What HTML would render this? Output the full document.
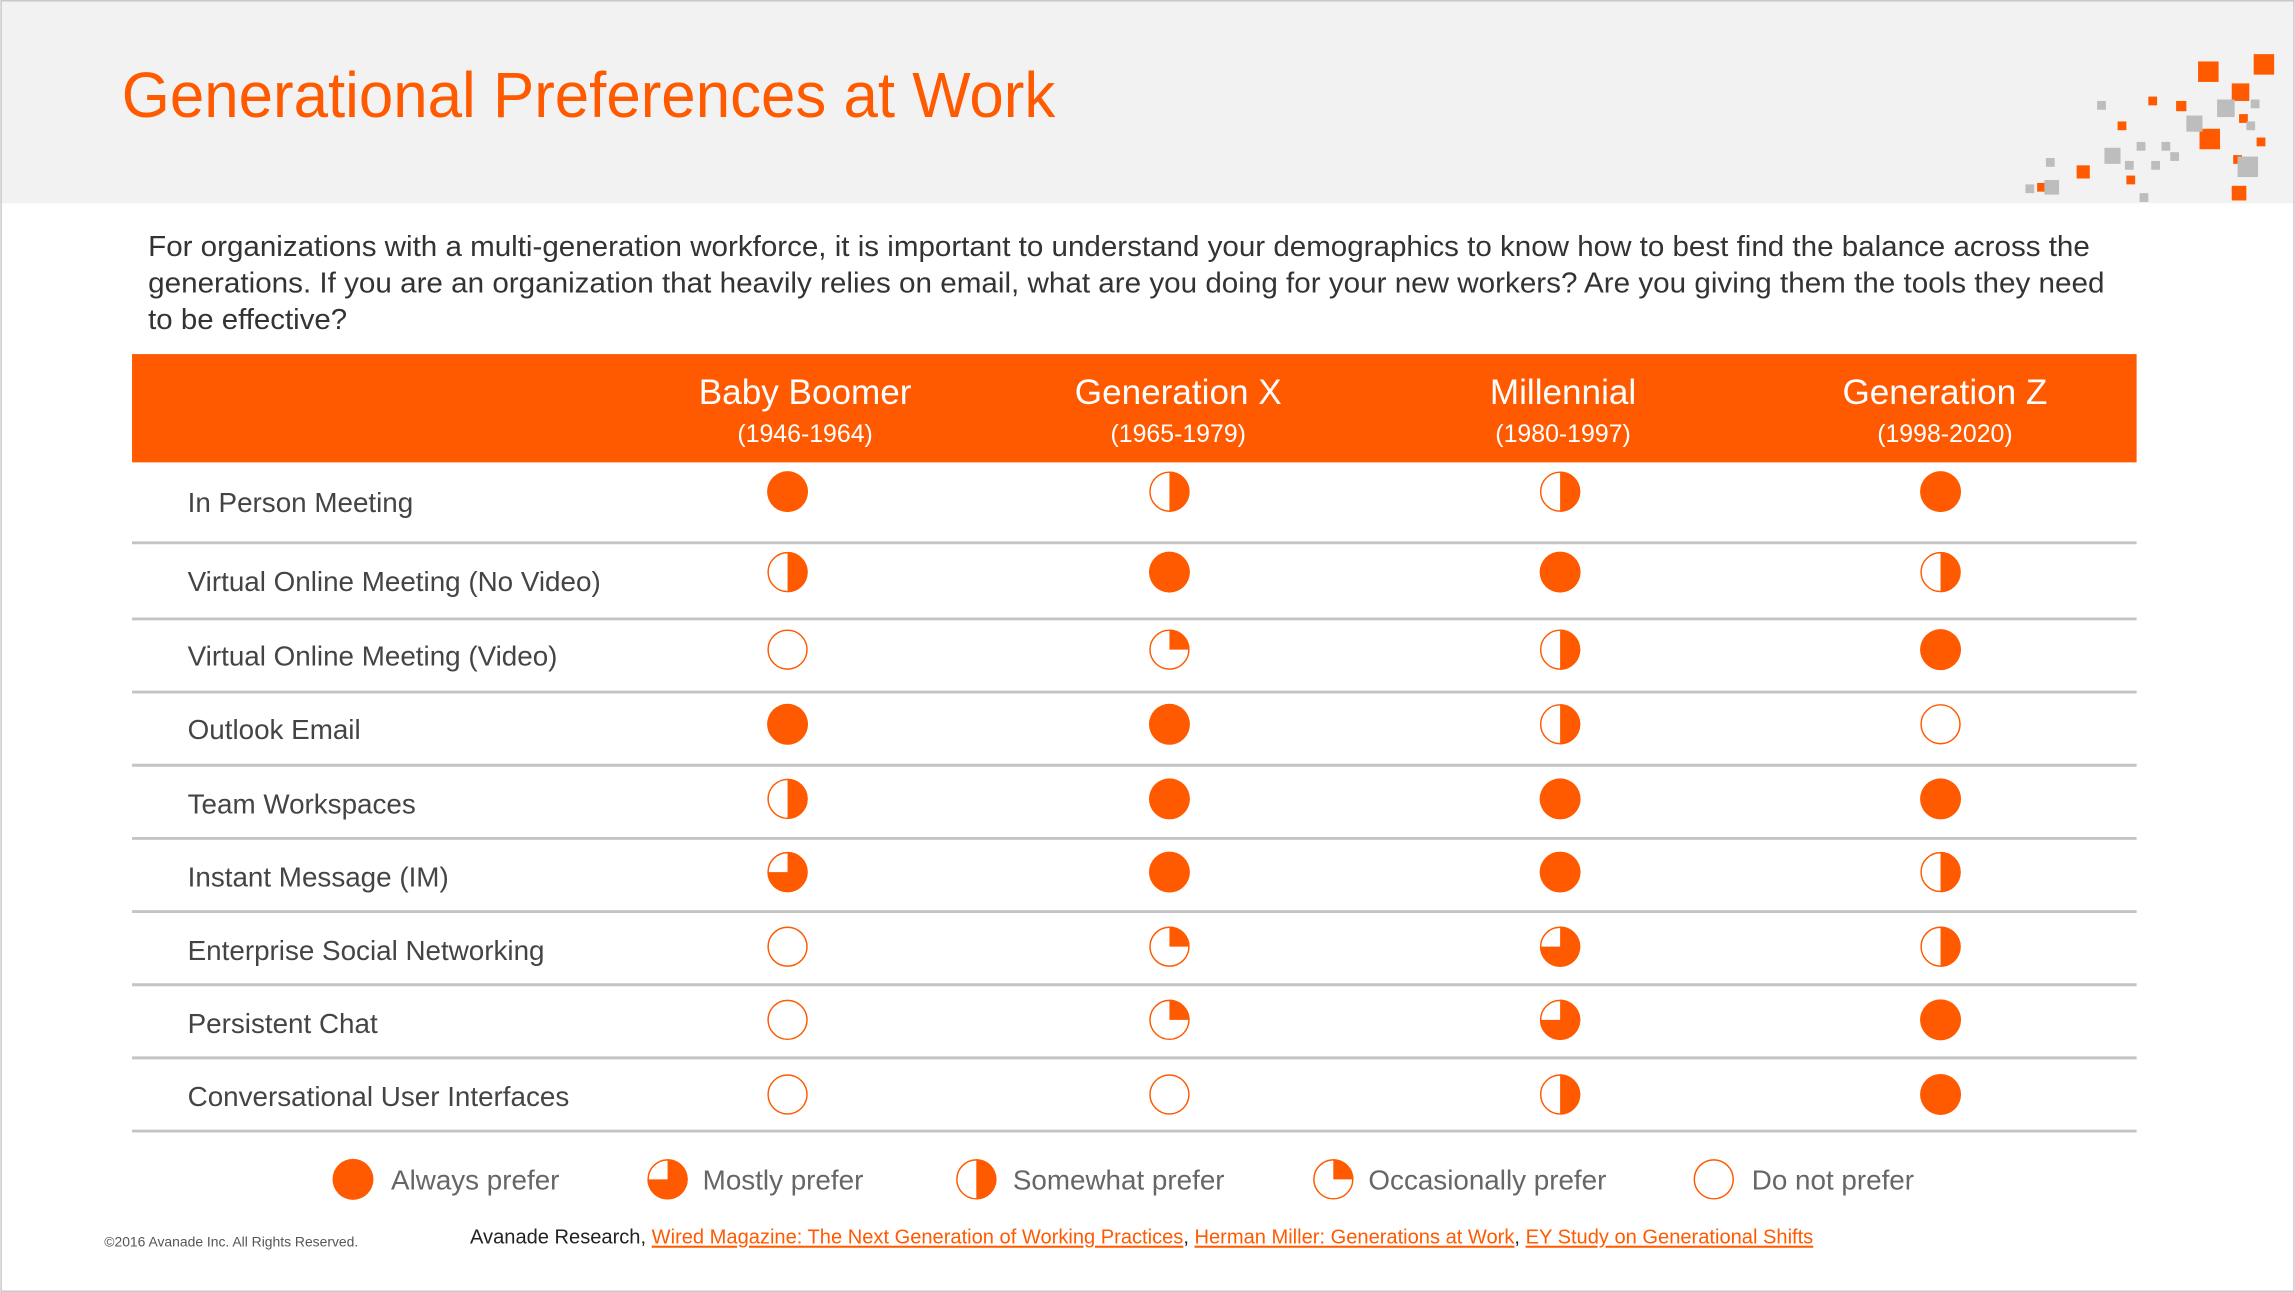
<!DOCTYPE html>
<html><head><meta charset="utf-8"><style>
html,body{margin:0;padding:0;background:#fff;}
svg{display:block;}
text{font-family:"Liberation Sans",sans-serif;}
</style></head><body>
<svg width="2295" height="1292" viewBox="0 0 1568 883" xmlns="http://www.w3.org/2000/svg">
<defs>
<g id="F"><circle r="14" fill="#ff5a00"/></g>
<g id="N"><circle r="13.3" fill="#fff" stroke="#ff5a00" stroke-width="1"/></g>
<g id="H"><circle r="13.3" fill="#fff" stroke="#ff5a00" stroke-width="1"/><path d="M0,-13.8 A13.8,13.8 0 0 1 0,13.8 Z" fill="#ff5a00"/></g>
<g id="M"><circle r="13.3" fill="#fff" stroke="#ff5a00" stroke-width="1"/><path d="M0,0 L0,-13.8 A13.8,13.8 0 1 1 -13.8,0 Z" fill="#ff5a00"/></g>
<g id="Q"><circle r="13.3" fill="#fff" stroke="#ff5a00" stroke-width="1"/><path d="M0,0 L0,-13.8 A13.8,13.8 0 0 1 13.8,0 Z" fill="#ff5a00"/></g>
</defs>
<rect x="0" y="0" width="1568" height="883" fill="#fff"/>
<rect x="0" y="0" width="1568" height="139" fill="#f2f2f2"/>
<rect x="0.5" y="0.5" width="1567" height="882" fill="none" stroke="#c8c8c8" stroke-width="1"/>
<text x="83" y="80" font-size="44" fill="#ff5a00" textLength="638" lengthAdjust="spacingAndGlyphs">Generational Preferences at Work</text>
<!-- decoration -->
<g fill="#ff5a00">
<rect x="1502" y="42" width="14" height="14"/><rect x="1540" y="37" width="14" height="14"/>
<rect x="1525" y="57" width="12" height="12"/><rect x="1503" y="88" width="14" height="14"/>
<rect x="1487" y="69" width="7" height="7"/><rect x="1468" y="66" width="6" height="6"/>
<rect x="1447" y="83" width="6" height="6"/><rect x="1530" y="78" width="6" height="6"/>
<rect x="1542" y="94" width="6" height="6"/><rect x="1526" y="106" width="6" height="6"/>
<rect x="1419" y="113" width="9" height="9"/><rect x="1392" y="125" width="6" height="6"/>
<rect x="1453" y="120" width="6" height="6"/><rect x="1525" y="127" width="10" height="10"/>
</g>
<g fill="#bdbdbd">
<rect x="1515" y="68" width="12" height="12"/><rect x="1494" y="79" width="11" height="11"/>
<rect x="1433" y="69" width="6" height="6"/><rect x="1538" y="68" width="6" height="6"/>
<rect x="1535" y="83" width="6" height="6"/><rect x="1529" y="107" width="14" height="14"/>
<rect x="1438" y="101" width="11" height="11"/><rect x="1397" y="123" width="10" height="10"/>
<rect x="1460" y="97" width="6" height="6"/><rect x="1477" y="97" width="6" height="6"/>
<rect x="1483" y="104" width="6" height="6"/><rect x="1452" y="110" width="6" height="6"/>
<rect x="1470" y="110" width="6" height="6"/><rect x="1398" y="108" width="6" height="6"/>
<rect x="1384" y="126" width="6" height="6"/><rect x="1462" y="132" width="6" height="6"/>
</g>
<g font-size="19.5" fill="#333">
<text x="101" y="175" textLength="1327" lengthAdjust="spacingAndGlyphs">For organizations with a multi-generation workforce, it is important to understand your demographics to know how to best find the balance across the</text>
<text x="101" y="200" textLength="1337" lengthAdjust="spacingAndGlyphs">generations.  If you are an organization that heavily relies on email, what are you doing for your new workers?  Are you giving them the tools they need</text>
<text x="101" y="225" textLength="136" lengthAdjust="spacingAndGlyphs">to be effective?</text>
</g>
<rect x="90" y="242" width="1370" height="74" fill="#ff5a00"/>
<g fill="#fff" text-anchor="middle">
<text x="550" y="276" font-size="24">Baby Boomer</text><text x="550" y="302" font-size="17">(1946-1964)</text>
<text x="805" y="276" font-size="24">Generation X</text><text x="805" y="302" font-size="17">(1965-1979)</text>
<text x="1068" y="276" font-size="24">Millennial</text><text x="1068" y="302" font-size="17">(1980-1997)</text>
<text x="1329" y="276" font-size="24">Generation Z</text><text x="1329" y="302" font-size="17">(1998-2020)</text>
</g>
<g stroke="#c4c4c4" stroke-width="2">
<line x1="90" y1="371" x2="1460" y2="371"/><line x1="90" y1="423" x2="1460" y2="423"/>
<line x1="90" y1="473" x2="1460" y2="473"/><line x1="90" y1="523" x2="1460" y2="523"/>
<line x1="90" y1="573" x2="1460" y2="573"/><line x1="90" y1="623" x2="1460" y2="623"/>
<line x1="90" y1="673" x2="1460" y2="673"/><line x1="90" y1="723" x2="1460" y2="723"/>
<line x1="90" y1="773" x2="1460" y2="773"/>
</g>
<g font-size="19" fill="#444">
<text x="128" y="350">In Person Meeting</text>
<text x="128" y="404">Virtual Online Meeting (No Video)</text>
<text x="128" y="455">Virtual Online Meeting (Video)</text>
<text x="128" y="505">Outlook Email</text>
<text x="128" y="556">Team Workspaces</text>
<text x="128" y="606">Instant Message (IM)</text>
<text x="128" y="656">Enterprise Social Networking</text>
<text x="128" y="706">Persistent Chat</text>
<text x="128" y="756">Conversational User Interfaces</text>
</g>
<!-- balls -->
<use href="#F" x="538" y="336"/><use href="#H" x="799" y="336"/><use href="#H" x="1066" y="336"/><use href="#F" x="1326" y="336"/>
<use href="#H" x="538" y="391"/><use href="#F" x="799" y="391"/><use href="#F" x="1066" y="391"/><use href="#H" x="1326" y="391"/>
<use href="#N" x="538" y="444"/><use href="#Q" x="799" y="444"/><use href="#H" x="1066" y="444"/><use href="#F" x="1326" y="444"/>
<use href="#F" x="538" y="495"/><use href="#F" x="799" y="495"/><use href="#H" x="1066" y="495"/><use href="#N" x="1326" y="495"/>
<use href="#H" x="538" y="546"/><use href="#F" x="799" y="546"/><use href="#F" x="1066" y="546"/><use href="#F" x="1326" y="546"/>
<use href="#M" x="538" y="596"/><use href="#F" x="799" y="596"/><use href="#F" x="1066" y="596"/><use href="#H" x="1326" y="596"/>
<use href="#N" x="538" y="647"/><use href="#Q" x="799" y="647"/><use href="#M" x="1066" y="647"/><use href="#H" x="1326" y="647"/>
<use href="#N" x="538" y="697"/><use href="#Q" x="799" y="697"/><use href="#M" x="1066" y="697"/><use href="#F" x="1326" y="697"/>
<use href="#N" x="538" y="748"/><use href="#N" x="799" y="748"/><use href="#H" x="1066" y="748"/><use href="#F" x="1326" y="748"/>
<!-- legend -->
<use href="#F" x="241" y="806"/><use href="#M" x="456" y="806"/><use href="#H" x="667" y="806"/><use href="#Q" x="911" y="806"/><use href="#N" x="1171" y="806"/>
<g font-size="19" fill="#666">
<text x="267" y="813">Always prefer</text>
<text x="480" y="813">Mostly prefer</text>
<text x="692" y="813">Somewhat prefer</text>
<text x="935" y="813">Occasionally prefer</text>
<text x="1197" y="813">Do not prefer</text>
</g>
<text x="71" y="852" font-size="9.5" fill="#555">©2016 Avanade Inc. All Rights Reserved.</text>
<text x="321" y="850" font-size="14" fill="#222" textLength="918" lengthAdjust="spacingAndGlyphs">Avanade Research, <tspan fill="#ff5a00" text-decoration="underline">Wired Magazine: The Next Generation of Working Practices</tspan>, <tspan fill="#ff5a00" text-decoration="underline">Herman Miller: Generations at Work</tspan>, <tspan fill="#ff5a00" text-decoration="underline">EY Study on Generational Shifts </tspan></text>
</svg>
</body></html>
